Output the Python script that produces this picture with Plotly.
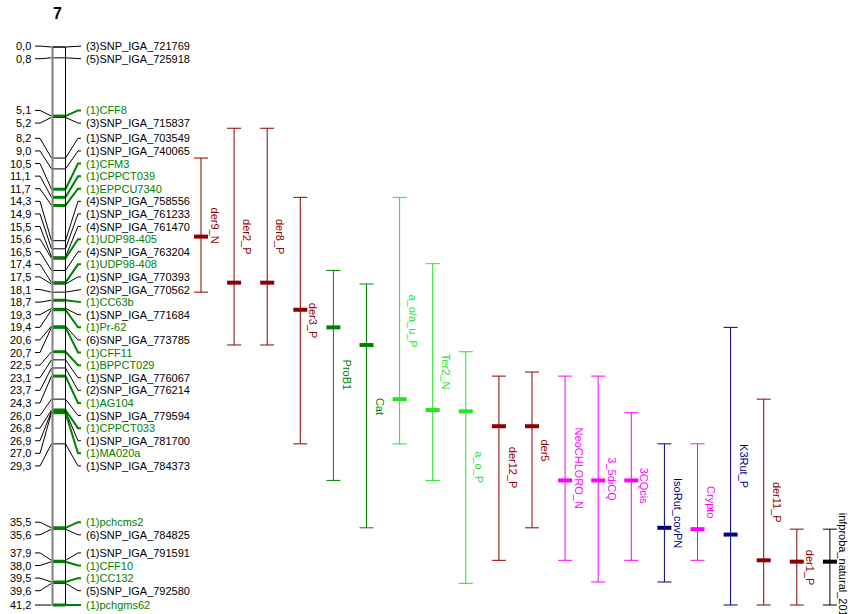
import plotly.graph_objects as go

# linkage group 7: marker positions (cM), names, SSR (green) flag
marker_pos = [0.0, 0.8, 5.1, 5.2, 8.2, 9.0, 10.5, 11.1, 11.7, 14.3, 14.9, 15.5, 15.6,
              16.5, 17.4, 17.5, 18.1, 18.7, 19.3, 19.4, 20.6, 20.7, 22.5, 23.1, 23.7,
              24.3, 26.0, 26.8, 26.9, 27.0, 29.3, 35.5, 35.6, 37.9, 38.0, 39.5, 39.6, 41.2]
marker_names = ["(3)SNP_IGA_721769", "(5)SNP_IGA_725918", "(1)CFF8", "(3)SNP_IGA_715837",
                "(1)SNP_IGA_703549", "(1)SNP_IGA_740065", "(1)CFM3", "(1)CPPCT039",
                "(1)EPPCU7340", "(4)SNP_IGA_758556", "(1)SNP_IGA_761233", "(4)SNP_IGA_761470",
                "(1)UDP98-405", "(4)SNP_IGA_763204", "(1)UDP98-408", "(1)SNP_IGA_770393",
                "(2)SNP_IGA_770562", "(1)CC63b", "(1)SNP_IGA_771684", "(1)Pr-62",
                "(6)SNP_IGA_773785", "(1)CFF11", "(1)BPPCT029", "(1)SNP_IGA_776067",
                "(2)SNP_IGA_776214", "(1)AG104", "(1)SNP_IGA_779594", "(1)CPPCT033",
                "(1)SNP_IGA_781700", "(1)MA020a", "(1)SNP_IGA_784373", "(1)pchcms2",
                "(6)SNP_IGA_784825", "(1)SNP_IGA_791591", "(1)CFF10", "(1)CC132",
                "(5)SNP_IGA_792580", "(1)pchgms62"]
is_ssr = [not n[3:].startswith("SNP") for n in marker_names]

# QTL intervals
qtl_names = ["der9_N", "der2_P", "der8_P", "der3_P", "ProB1", "Cat", "a_o/a_u_P", "Ter2_N",
             "a_o_P", "der12_P", "der5", "NeoCHLORO_N", "3_5diCQ", "3CQcis", "IsoRut_covPN",
             "Crypto", "K3Rut_P", "der11_P", "der1_P", "infproba_natural_2011"]
qtl_lo = [8.2, 6.0, 6.0, 11.1, 16.5, 17.5, 11.1, 16.0, 22.5, 24.3, 24.0, 24.3, 24.3, 27.0,
          29.3, 29.3, 20.7, 26.0, 35.6, 35.6]
qtl_hi = [18.1, 22.0, 22.0, 29.3, 32.0, 35.5, 29.3, 32.0, 39.6, 37.9, 35.5, 37.9, 39.5, 37.9,
          39.5, 37.9, 41.2, 41.2, 41.2, 41.2]
qtl_peak = [14.0, 17.4, 17.4, 19.4, 20.7, 22.0, 26.0, 26.8, 26.9, 28.0, 28.0, 32.0, 32.0, 32.0,
            35.5, 35.6, 36.0, 37.9, 38.0, 38.0]

DRED, GRN, LIME, MAG, NAVY = "#8B0000", "#008000", "#22E622", "#FF00FF", "#000080"
qtl_colors = [DRED, DRED, DRED, DRED, GRN, GRN, LIME, LIME, LIME, DRED, DRED, MAG, MAG, MAG,
              NAVY, MAG, NAVY, DRED, DRED, "#000000"]

FONT = "Liberation Sans, Arial, sans-serif"
PX_PER_CM = 13.544
TOP_PX = 47
W, H = 852, 614
GAP = 12.6 / PX_PER_CM  # label spacing in cM

CHR_L, CHR_R = 52.5, 65.5
COL0, COL_STEP = 201, 33.1


def spread(vals, gap):
    # groups of overlapping labels centred on the mean of their positions
    groups = [[v] for v in vals]
    changed = True
    while changed:
        changed = False
        for i in range(len(groups) - 1):
            a, b = groups[i], groups[i + 1]
            ca, cb = sum(a) / len(a), sum(b) / len(b)
            bot_a = ca + (len(a) - 1) / 2 * gap
            top_b = cb - (len(b) - 1) / 2 * gap
            if top_b - bot_a < gap - 1e-9:
                groups[i] = a + b
                del groups[i + 1]
                changed = True
                break
    out = []
    for g in groups:
        c = sum(g) / len(g)
        out += [c + (k - (len(g) - 1) / 2) * gap for k in range(len(g))]
    return out


label_y = spread(marker_pos, GAP)

fig = go.Figure()


def seg_trace(xs, ys, color, width):
    fig.add_trace(go.Scatter(x=xs, y=ys, mode="lines", line=dict(color=color, width=width),
                             hoverinfo="skip", showlegend=False))


# connectors
bx, by, gx, gy = [], [], [], []
for p, ly, ssr in zip(marker_pos, label_y, is_ssr):
    bx += [35, 40, CHR_L - 1, None]
    by += [ly, ly, p, None]
    if ssr:
        gx += [CHR_R, 78, 81, None]
        gy += [p, ly, ly, None]
    else:
        bx += [CHR_R, 78, 81, None]
        by += [p, ly, ly, None]
seg_trace(bx, by, "#000000", 1)
seg_trace(gx, gy, GRN, 2)

# markers inside chromosome
mx, my, sx, sy = [], [], [], []
for p, ssr in zip(marker_pos, is_ssr):
    if ssr:
        sx += [CHR_L, CHR_R, None]
        sy += [p, p, None]
    else:
        mx += [CHR_L, CHR_R, None]
        my += [p, p, None]
seg_trace(mx, my, "#000000", 1)
seg_trace(sx, sy, GRN, 3)

# chromosome body
seg_trace([CHR_L, CHR_L], [0, marker_pos[-1]], "#808080", 2)
seg_trace([CHR_L, CHR_R, CHR_R], [0, 0, marker_pos[-1]], "#000000", 1)

ann = []
for p, ly, name, ssr in zip(marker_pos, label_y, marker_names, is_ssr):
    ann.append(dict(x=33, y=ly, text=f"{p:.1f}".replace(".", ","), xanchor="right",
                    yanchor="middle", showarrow=False, font=dict(size=11, color="#000000")))
    ann.append(dict(x=84, y=ly, text=name, xanchor="left", yanchor="middle", showarrow=False,
                    font=dict(size=11, color=GRN if ssr else "#000000")))

# QTL bars
for i, (nm, lo, hi, pk, col) in enumerate(zip(qtl_names, qtl_lo, qtl_hi, qtl_peak, qtl_colors)):
    x = COL0 + COL_STEP * i
    seg_trace([x - 7, x + 7, None, x, x, None, x - 7, x + 7],
              [lo, lo, None, lo, hi, None, hi, hi], col, 1)
    seg_trace([x - 7, x + 7], [pk, pk], col, 4)
    ann.append(dict(x=x + 13.5, y=(lo + hi) / 2, text=nm, textangle=90, xanchor="center",
                    yanchor="middle", showarrow=False, font=dict(size=11, color=col)))

ann.append(dict(x=57, y=-2.45, text="<b>7</b>", showarrow=False, xanchor="center",
                yanchor="middle", font=dict(size=16, color="#000000")))

fig.update_layout(
    width=W, height=H,
    margin=dict(l=0, r=0, t=0, b=0),
    paper_bgcolor="white", plot_bgcolor="white",
    font=dict(family=FONT),
    xaxis=dict(range=[0, W], visible=False, fixedrange=True),
    yaxis=dict(range=[(H - TOP_PX) / PX_PER_CM, -TOP_PX / PX_PER_CM], visible=False,
               fixedrange=True),
    annotations=ann,
)

fig.write_html("out.html", config={"displayModeBar": False},
               post_script="document.body.style.margin='0';")
